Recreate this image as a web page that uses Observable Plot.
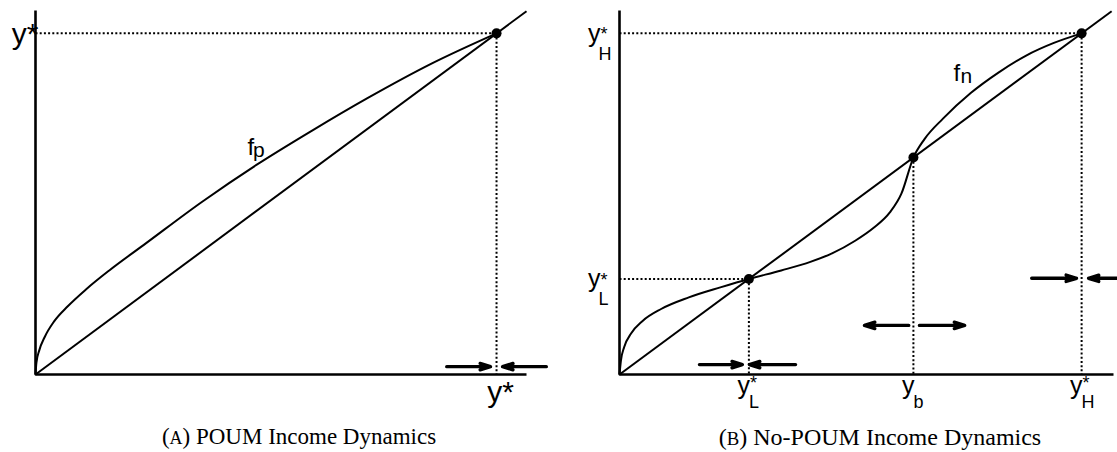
<!DOCTYPE html>
<html><head><meta charset="utf-8">
<script src="https://cdn.jsdelivr.net/npm/d3@7"></script>
<script src="https://cdn.jsdelivr.net/npm/@observablehq/plot@0.6"></script>
<style>
body{margin:0;background:#fff;}
#wrap{position:relative;width:1117px;height:452px;overflow:hidden;background:#fff;}
.panel{position:absolute;top:0;}
.cap{position:absolute;top:425px;font-family:"Liberation Serif","Times New Roman",serif;font-size:23px;text-align:center;line-height:1;color:#000;white-space:nowrap;}
.sc{font-size:0.78em;}
</style></head><body>
<div id="wrap">
  <div id="pa" class="panel" style="left:0"></div>
  <div id="pb" class="panel" style="left:558px"></div>
  <div class="cap" style="left:0;width:598px">(<span class="sc">A</span>) POUM Income Dynamics</div>
  <div class="cap" style="left:630px;width:500px;font-size:24px">(<span class="sc">B</span>) No-POUM Income Dynamics</div>
</div>
<script>
// ---------- Panel A data (POUM) ----------
const fpX = [0, 0.002, 0.008, 0.02, 0.04, 0.07, 0.11, 0.16, 0.24, 0.36, 0.48, 0.6, 0.72, 0.86, 1];
const fpY = [0, 0.035, 0.07, 0.11, 0.155, 0.2, 0.25, 0.305, 0.385, 0.505, 0.615, 0.715, 0.81, 0.912, 1];
const yStarA = 1;
const xMaxA = 1.065;
const arrowA_x1 = [0.892, 1.108];
const arrowA_x2 = [0.987, 1.013];
const arrowA_y = [0.023, 0.023];
const fpLabelX = 0.46, fpLabelY = 0.642;

// ---------- Panel B data (No-POUM) ----------
const fnX = [0, 0.003, 0.01, 0.025, 0.05, 0.09, 0.15, 0.22, 0.28, 0.35, 0.413, 0.46, 0.51, 0.55, 0.585, 0.61, 0.636, 0.66, 0.70, 0.76, 0.82, 0.88, 0.94, 1];
const fnY = [0, 0.04, 0.08, 0.12, 0.157, 0.192, 0.226, 0.256, 0.28, 0.305, 0.33, 0.355, 0.392, 0.43, 0.475, 0.53, 0.636, 0.69, 0.75, 0.825, 0.885, 0.935, 0.972, 1];
const eqNames = ["L", "b", "H"];
const eqValues = [0.28, 0.636, 1];
const eqStar = [true, false, true];
const eqHorizontal = [true, false, true];
const xMaxB = 1.069;
const arrowB_x1 = [0.173, 0.381, 0.626, 0.649, 0.892, 1.084];
const arrowB_x2 = [0.266, 0.281, 0.530, 0.747, 0.989, 1.015];
const arrowB_y  = [0.029, 0.029, 0.144, 0.144, 0.282, 0.282];
const fnLabelX = 0.723, fnLabelY = 0.861;

const yMax = 1.067;
const diagEnd = 1.065;

// ---------- shared styles ----------
const SANS = "Liberation Sans, Arial, Helvetica, sans-serif";
const dotted = {stroke: "black", strokeWidth: 2, strokeDasharray: "2 2.2"};
const axisStyle = {stroke: "black", strokeWidth: 2.6};
const curveStyle = {stroke: "black", strokeWidth: 2};
const arrowStyle = {stroke: "black", strokeWidth: 3.4, headLength: 4.8, headAngle: 34};

const seg = (x1, y1, x2, y2) => ({x1, y1, x2, y2});
const linkCh = {x1: "x1", y1: "y1", x2: "x2", y2: "y2"};

// ---------- Panel A ----------
const fpData = fpX.map((x, i) => ({x, y: fpY[i]}));
const arrowsA = arrowA_x1.map((x1, i) => ({x1, x2: arrowA_x2[i], y: arrowA_y[i]}));
const plotA = Plot.plot({
  width: 558, height: 412,
  marginLeft: 35, marginRight: 32, marginTop: 10, marginBottom: 38,
  x: {domain: [0, xMaxA], axis: null},
  y: {domain: [0, yMax], axis: null},
  style: {background: "white", overflow: "visible"},
  marks: [
    Plot.link([seg(0, yStarA, yStarA, yStarA), seg(yStarA, yStarA, yStarA, 0)], {...linkCh, ...dotted}),
    Plot.link([seg(0, 0, 0, yMax), seg(0, 0, xMaxA, 0)], {...linkCh, ...axisStyle}),
    Plot.link([seg(0, 0, diagEnd, diagEnd)], {...linkCh, ...curveStyle}),
    Plot.line(fpData, {x: "x", y: "y", curve: "monotone-x", ...curveStyle}),
    Plot.dot([yStarA], {x: d => d, y: d => d, r: 5, fill: "black"}),
    Plot.arrow(arrowsA, {x1: "x1", x2: "x2", y1: "y", y2: "y", ...arrowStyle}),
    Plot.text(["y*"], {x: 0, y: yStarA, text: d => d, textAnchor: "end", lineAnchor: "bottom", dx: 3, dy: 11, fontSize: 30, fontFamily: SANS, fill: "black"}),
    Plot.text(["y*"], {x: yStarA, y: 0, text: d => d, textAnchor: "middle", lineAnchor: "bottom", dx: 4, dy: 27, fontSize: 30, fontFamily: SANS, fill: "black"}),
    Plot.text(["f"], {x: fpLabelX, y: fpLabelY, text: d => d, textAnchor: "start", lineAnchor: "bottom", fontSize: 24, fontFamily: SANS, fill: "black"}),
    Plot.text(["p"], {x: fpLabelX, y: fpLabelY, text: d => d, textAnchor: "start", lineAnchor: "bottom", dx: 5.5, dy: 2, fontSize: 21, fontFamily: SANS, fill: "black"})
  ]
});
document.getElementById("pa").appendChild(plotA);

// ---------- Panel B ----------
const fnData = fnX.map((x, i) => ({x, y: fnY[i]}));
const eq = eqNames.map((name, i) => ({name, v: eqValues[i], star: eqStar[i], horiz: eqHorizontal[i]}));
const eqH = eq.filter(d => d.horiz);
const eqS = eq.filter(d => d.star);
const arrowsB = arrowB_x1.map((x1, i) => ({x1, x2: arrowB_x2[i], y: arrowB_y[i]}));
const plotB = Plot.plot({
  width: 559, height: 412,
  marginLeft: 61, marginRight: 4, marginTop: 10, marginBottom: 38,
  x: {domain: [0, xMaxB], axis: null},
  y: {domain: [0, yMax], axis: null},
  style: {background: "white", overflow: "visible"},
  marks: [
    Plot.link(eqH, {x1: 0, x2: d => d.v, y1: d => d.v, y2: d => d.v, ...dotted}),
    Plot.link(eq, {x1: d => d.v, x2: d => d.v, y1: d => d.v, y2: 0, ...dotted}),
    Plot.link([seg(0, 0, 0, yMax), seg(0, 0, xMaxB, 0)], {...linkCh, ...axisStyle}),
    Plot.link([seg(0, 0, diagEnd, diagEnd)], {...linkCh, ...curveStyle}),
    Plot.line(fnData, {x: "x", y: "y", curve: "monotone-x", ...curveStyle}),
    Plot.dot(eq, {x: "v", y: "v", r: 5, fill: "black"}),
    Plot.arrow(arrowsB, {x1: "x1", x2: "x2", y1: "y", y2: "y", ...arrowStyle}),
    // bottom labels
    Plot.text(eq, {x: "v", y: 0, text: () => "y", textAnchor: "end", lineAnchor: "bottom", dx: 1, dy: 19, fontSize: 25, fontFamily: SANS, fill: "black"}),
    Plot.text(eqS, {x: "v", y: 0, text: () => "*", textAnchor: "start", lineAnchor: "bottom", dx: 1, dy: 14, fontSize: 18, fontFamily: SANS, fill: "black"}),
    Plot.text(eq, {x: "v", y: 0, text: "name", textAnchor: "start", lineAnchor: "bottom", dx: 0, dy: 33, fontSize: 18, fontFamily: SANS, fill: "black"}),
    // left labels
    Plot.text(eqH, {x: 0, y: "v", text: () => "y", textAnchor: "end", lineAnchor: "bottom", dx: -19, dy: 8.5, fontSize: 25, fontFamily: SANS, fill: "black"}),
    Plot.text(eqH, {x: 0, y: "v", text: () => "*", textAnchor: "start", lineAnchor: "bottom", dx: -19, dy: 7, fontSize: 18, fontFamily: SANS, fill: "black"}),
    Plot.text(eqH, {x: 0, y: "v", text: "name", textAnchor: "start", lineAnchor: "bottom", dx: -21, dy: 26.5, fontSize: 18, fontFamily: SANS, fill: "black"}),
    // f_n label
    Plot.text(["f"], {x: fnLabelX, y: fnLabelY, text: d => d, textAnchor: "start", lineAnchor: "bottom", fontSize: 24, fontFamily: SANS, fill: "black"}),
    Plot.text(["n"], {x: fnLabelX, y: fnLabelY, text: d => d, textAnchor: "start", lineAnchor: "bottom", dx: 7, dy: 2.5, fontSize: 21, fontFamily: SANS, fill: "black"})
  ]
});
document.getElementById("pb").appendChild(plotB);
</script>
</body></html>
